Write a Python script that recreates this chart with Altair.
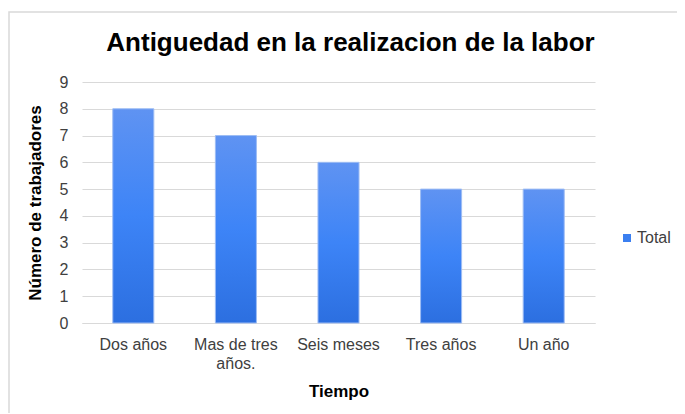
import altair as alt
import pandas as pd

categorias = ["Dos años", "Mas de tres años.", "Seis meses", "Tres años", "Un año"]
valores = [8, 7, 6, 5, 5]
serie = ["Total"] * 5

df = pd.DataFrame({"Tiempo": categorias, "Valor": valores, "Serie": serie})

FONT = "Liberation Sans"

x_enc = alt.X(
    "Tiempo:N",
    sort=None,
    scale=alt.Scale(paddingInner=0.6, paddingOuter=0.3),
    axis=alt.Axis(
        title="Tiempo",
        labelAngle=0,
        labelExpr="datum.label == 'Mas de tres años.' ? ['Mas de tres', 'años.'] : datum.label",
        labelFontSize=16,
        labelFont=FONT,
        labelColor="#404040",
        labelPadding=13,
        labelLineHeight=19,
        ticks=False,
        tickSize=0,
        domain=True,
        domainColor="#d9d9d9",
        domainWidth=1,
        titleFont=FONT,
        titleFontSize=17,
        titleFontWeight="bold",
        titleColor="#000000",
        titleBaseline="alphabetic",
        titleY=73,
        grid=False,
    ),
)
y_enc = alt.Y(
    "Valor:Q",
    scale=alt.Scale(domain=[0, 9], nice=False),
    axis=alt.Axis(
        title="Número de trabajadores",
        values=list(range(0, 10)),
        labelFontSize=16,
        labelFont=FONT,
        labelColor="#404040",
        labelPadding=14,
        ticks=False,
        tickSize=0,
        domain=False,
        grid=True,
        gridColor="#d9d9d9",
        gridWidth=1,
        titleFont=FONT,
        titleFontSize=17,
        titleFontWeight="bold",
        titleColor="#000000",
        titleBaseline="alphabetic",
        titleX=-42,
    ),
)

gradient = alt.LinearGradient(
    gradient="linear",
    x1=0, y1=0, x2=0, y2=1,
    stops=[
        alt.GradientStop(offset=0, color="#5f93f2"),
        alt.GradientStop(offset=0.5, color="#3d84f7"),
        alt.GradientStop(offset=1, color="#2c6fe0"),
    ],
)

legend_layer = alt.Chart(df).mark_bar(opacity=0).encode(
    x=x_enc,
    y=y_enc,
    color=alt.Color(
        "Serie:N",
        scale=alt.Scale(range=["#3b7ff0"]),
        legend=alt.Legend(
            title=None,
            orient="none",
            legendX=537,
            legendY=148,
            symbolType="square",
            symbolSize=64,
            symbolOpacity=1,
            symbolStrokeWidth=0,
            labelFont=FONT,
            labelFontSize=16,
            labelColor="#404040",
            labelOffset=2,
            padding=0,
        ),
    ),
)

bars = alt.Chart(df).mark_bar(fill=gradient, stroke="#9dbcf4", strokeWidth=1).encode(
    x=x_enc,
    y=y_enc,
)

border = alt.Chart(pd.DataFrame({"k": [0]})).mark_rect(
    fillOpacity=0, stroke="#d9d9d9", strokeWidth=1.5
).encode(
    x=alt.value(-73), x2=alt.value(700), y=alt.value(-70), y2=alt.value(420)
)

chart = alt.layer(border, legend_layer, bars).properties(
    width=513,
    height=241,
    autosize=alt.AutoSizeParams(type="none"),
    padding={"left": 74, "top": 74, "right": 82, "bottom": 90},
    title=alt.TitleParams(
        text="Antiguedad en la realizacion de la labor",
        font=FONT,
        fontSize=26,
        fontWeight="bold",
        color="#000000",
        anchor="middle",
        baseline="alphabetic",
        offset=0,
        dx=12,
        dy=66,
    ),
).configure_view(stroke=None)

chart.save("out.html", embed_options={"renderer": "svg", "actions": False})
